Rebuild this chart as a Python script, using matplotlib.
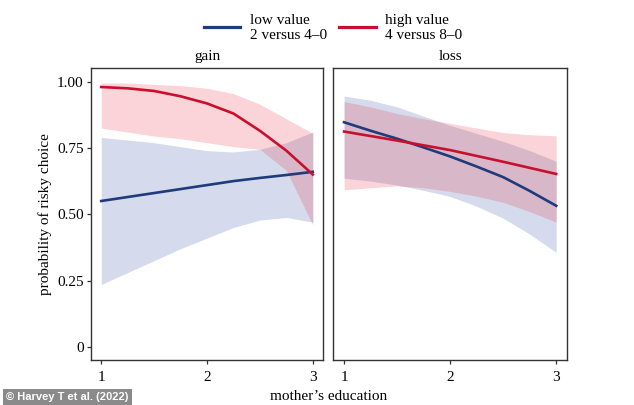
import matplotlib
matplotlib.use('Agg')
import matplotlib.pyplot as plt
from matplotlib.lines import Line2D

plt.rcParams['font.family'] = ['Liberation Serif', 'DejaVu Serif']

# mother's education levels
edu = [1, 1.25, 1.5, 1.75, 2, 2.25, 2.5, 2.75, 3]

# gain panel
gain_low = [0.55, 0.565, 0.58, 0.595, 0.61, 0.625, 0.637, 0.648, 0.66]
gain_low_hi = [0.79, 0.78, 0.77, 0.755, 0.74, 0.735, 0.745, 0.77, 0.81]
gain_low_lo = [0.235, 0.28, 0.325, 0.37, 0.41, 0.45, 0.478, 0.488, 0.47]
gain_high = [0.98, 0.975, 0.965, 0.945, 0.918, 0.88, 0.815, 0.74, 0.65]
gain_high_hi = [0.995, 0.995, 0.99, 0.985, 0.975, 0.955, 0.915, 0.86, 0.805]
gain_high_lo = [0.825, 0.81, 0.795, 0.785, 0.77, 0.755, 0.745, 0.665, 0.46]

# loss panel
loss_low = [0.847, 0.815, 0.785, 0.752, 0.718, 0.68, 0.64, 0.588, 0.532]
loss_low_hi = [0.946, 0.93, 0.905, 0.87, 0.835, 0.805, 0.775, 0.74, 0.70]
loss_low_lo = [0.636, 0.625, 0.61, 0.59, 0.567, 0.53, 0.485, 0.425, 0.356]
loss_high = [0.812, 0.795, 0.778, 0.76, 0.742, 0.72, 0.698, 0.675, 0.652]
loss_high_hi = [0.925, 0.905, 0.88, 0.86, 0.843, 0.825, 0.808, 0.80, 0.796]
loss_high_lo = [0.592, 0.60, 0.607, 0.60, 0.586, 0.568, 0.545, 0.51, 0.47]

panels = {
    'gain': (gain_low, gain_low_lo, gain_low_hi, gain_high, gain_high_lo, gain_high_hi),
    'loss': (loss_low, loss_low_lo, loss_low_hi, loss_high, loss_high_lo, loss_high_hi),
}

blue = '#1f3b7c'
red = '#c8102e'
blue_fill = '#2f4fa0'
red_fill = '#e8283c'
spine = '#333333'

fig = plt.figure(figsize=(6.34, 4.05), dpi=100)
ax1 = fig.add_axes([0.143, 0.111, 0.367, 0.720])
ax2 = fig.add_axes([0.526, 0.111, 0.368, 0.720])

for ax, (name, (lo, lo_l, lo_h, hi, hi_l, hi_h)) in zip([ax1, ax2], panels.items()):
    # blue ribbon and line first, red ribbon drawn over them
    ax.fill_between(edu, lo_l, lo_h, color=blue_fill, alpha=0.2, linewidth=0)
    ax.plot(edu, lo, color=blue, lw=1.9)
    ax.fill_between(edu, hi_l, hi_h, color=red_fill, alpha=0.2, linewidth=0)
    ax.plot(edu, hi, color=red, lw=1.9)
    ax.set_xlim(0.9, 3.1)
    ax.set_ylim(-0.05, 1.05)
    ax.set_xticks([1, 2, 3])
    ax.set_xticklabels(['1', '2', '3'])
    ax.set_title(name, fontsize=11, pad=6)
    for s in ax.spines.values():
        s.set_color(spine)
        s.set_linewidth(1.0)
    ax.tick_params(axis='both', length=3, width=0.9, color=spine, labelsize=11, pad=2)
    ax.tick_params(axis='x', pad=5)

ax1.set_yticks([0, 0.25, 0.5, 0.75, 1.0])
ax1.set_yticklabels(['0', '0.25', '0.50', '0.75', '1.00'])
ax1.set_ylabel('probability of risky choice', fontsize=11, labelpad=4)
ax2.tick_params(axis='y', left=False, labelleft=False)

fig.text(0.518, 0.022, 'mother\u2019s education', ha='center', va='center', fontsize=11)

handles = [Line2D([], [], color=blue, lw=2.3), Line2D([], [], color=red, lw=2.3)]
fig.legend(handles, ['low value\n2 versus 4\u20130', 'high value\n4 versus 8\u20130'],
           loc='upper center', bbox_to_anchor=(0.525, 1.0), ncol=2, frameon=False,
           fontsize=11, handlelength=2.4, handletextpad=0.6, columnspacing=0.8)

fig.text(0.01, 0.02, '\u00a9 Harvey T et al. (2022)', ha='left', va='center', fontsize=8,
         color='white', fontweight='bold',
         family=['Liberation Sans Narrow', 'Liberation Sans', 'DejaVu Sans'],
         bbox=dict(boxstyle='square,pad=0.3', facecolor='#8a8a8a', edgecolor='none'))

fig.savefig('out.png', dpi=100)
